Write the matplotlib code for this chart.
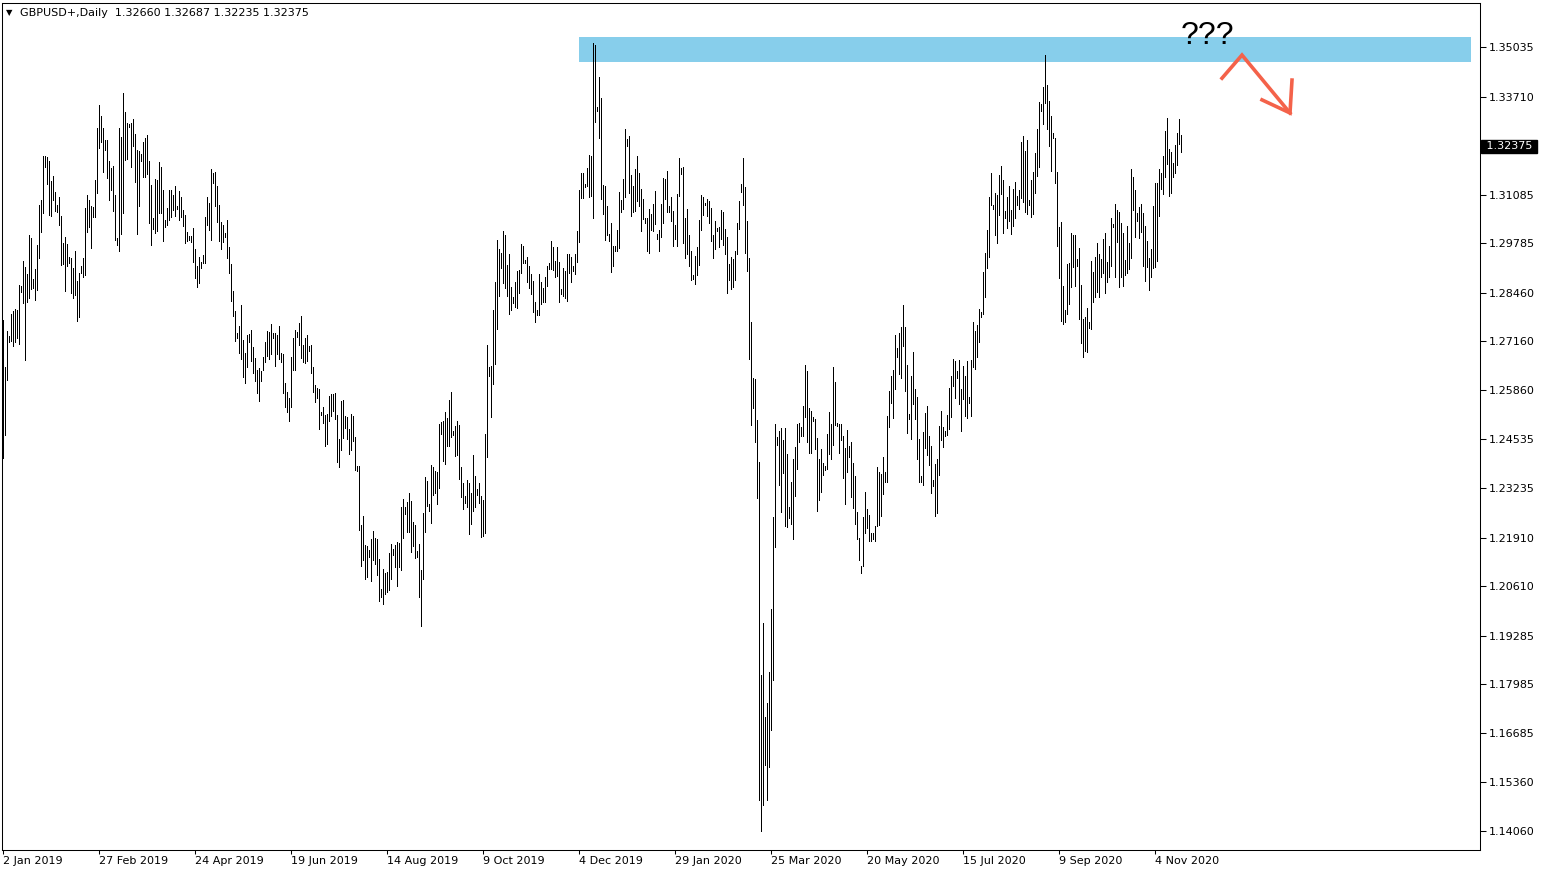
import matplotlib
matplotlib.use("Agg")
import matplotlib.pyplot as plt
import numpy as np

# --- chart data (daily bars incl. sunday bars) ---
symbol = "GBPUSD+,Daily"
last_ohlc = ["1.32660", "1.32687", "1.32235", "1.32375"]
last_price = 1.32375

high = [
    1.2773, 1.2648, 1.2743, 1.2730, 1.2789, 1.2797, 1.2802, 1.2800, 1.2867, 1.2864,
    1.2931, 1.2915, 1.2896, 1.3000, 1.2992, 1.2883, 1.2910, 1.2974, 1.3081, 1.3094,
    1.3212, 1.3212, 1.3209, 1.3198, 1.3145, 1.3158, 1.3115, 1.3081, 1.3102, 1.3051,
    1.2979, 1.2995, 1.2976, 1.2942, 1.2939, 1.2912, 1.2958, 1.2877, 1.2899, 1.2917,
    1.2939, 1.3073, 1.3107, 1.3094, 1.3078, 1.3075, 1.3148, 1.3287, 1.3348, 1.3319,
    1.3287, 1.3255, 1.3255, 1.3198, 1.3180, 1.3185, 1.3107, 1.2992, 1.3287, 1.3263,
    1.3380, 1.3329, 1.3300, 1.3297, 1.3300, 1.3311, 1.3271, 1.3228, 1.3225, 1.3217,
    1.3249, 1.3260, 1.3268, 1.3198, 1.3134, 1.3046, 1.3150, 1.3148, 1.3196, 1.3182,
    1.3121, 1.3041, 1.3073, 1.3121, 1.3121, 1.3107, 1.3131, 1.3078, 1.3118, 1.3102,
    1.3067, 1.3054, 1.3008, 1.2998, 1.2998, 1.3019, 1.2963, 1.2917, 1.2942, 1.2928,
    1.2947, 1.3049, 1.3102, 1.3086, 1.3177, 1.3166, 1.3169, 1.3131, 1.3081, 1.3035,
    1.3027, 1.3006, 1.3041, 1.2968, 1.2923, 1.2851, 1.2797, 1.2738, 1.2757, 1.2813,
    1.2720, 1.2685, 1.2733, 1.2736, 1.2746, 1.2701, 1.2671, 1.2639, 1.2645, 1.2637,
    1.2674, 1.2714, 1.2744, 1.2741, 1.2762, 1.2738, 1.2738, 1.2733, 1.2757, 1.2685,
    1.2682, 1.2605, 1.2580, 1.2564, 1.2674, 1.2725, 1.2746, 1.2741, 1.2765, 1.2784,
    1.2706, 1.2725, 1.2733, 1.2703, 1.2706, 1.2647, 1.2599, 1.2591, 1.2588, 1.2527,
    1.2540, 1.2519, 1.2521, 1.2570, 1.2575, 1.2575, 1.2578, 1.2519, 1.2455, 1.2556,
    1.2559, 1.2516, 1.2513, 1.2481, 1.2521, 1.2516, 1.2460, 1.2382, 1.2382, 1.2225,
    1.2249, 1.2171, 1.2169, 1.2158, 1.2187, 1.2209, 1.2190, 1.2187, 1.2134, 1.2054,
    1.2107, 1.2096, 1.2099, 1.2150, 1.2174, 1.2160, 1.2171, 1.2179, 1.2177, 1.2273,
    1.2294, 1.2273, 1.2286, 1.2310, 1.2289, 1.2233, 1.2225, 1.2155, 1.2174, 1.2104,
    1.2257, 1.2353, 1.2342, 1.2281, 1.2385, 1.2380, 1.2369, 1.2366, 1.2495, 1.2500,
    1.2503, 1.2527, 1.2511, 1.2559, 1.2580, 1.2476, 1.2489, 1.2503, 1.2492, 1.2380,
    1.2337, 1.2302, 1.2345, 1.2337, 1.2310, 1.2412, 1.2356, 1.2321, 1.2337, 1.2302,
    1.2292, 1.2468, 1.2706, 1.2647, 1.2650, 1.2800, 1.2875, 1.2987, 1.2963, 1.2952,
    1.3011, 1.3000, 1.2920, 1.2950, 1.2861, 1.2835, 1.2875, 1.2904, 1.2907, 1.2976,
    1.2971, 1.2934, 1.2942, 1.2917, 1.2896, 1.2877, 1.2821, 1.2800, 1.2896, 1.2875,
    1.2859, 1.2888, 1.2917, 1.2926, 1.2984, 1.2968, 1.2931, 1.2968, 1.2928, 1.2856,
    1.2912, 1.2904, 1.2950, 1.2950, 1.2942, 1.2917, 1.2950, 1.3011, 1.3121, 1.3166,
    1.3166, 1.3137, 1.3180, 1.3214, 1.3212, 1.3514, 1.3509, 1.3343, 1.3423, 1.3367,
    1.3134, 1.3131, 1.3078, 1.3003, 1.3032, 1.2971, 1.2971, 1.3014, 1.3115, 1.3094,
    1.3150, 1.3284, 1.3257, 1.3265, 1.3161, 1.3131, 1.3177, 1.3212, 1.3166, 1.3123,
    1.3097, 1.3046, 1.3046, 1.3070, 1.3057, 1.3083, 1.3118, 1.3003, 1.3014, 1.3083,
    1.3153, 1.3150, 1.3172, 1.3078, 1.3102, 1.3065, 1.3027, 1.3110, 1.3206, 1.3180,
    1.3182, 1.3046, 1.3070, 1.3000, 1.2958, 1.2893, 1.2944, 1.2968, 1.3041, 1.3107,
    1.3102, 1.3086, 1.3097, 1.3091, 1.3073, 1.3000, 1.3038, 1.3019, 1.3022, 1.3067,
    1.3062, 1.3016, 1.2995, 1.2923, 1.2942, 1.2936, 1.2958, 1.3032, 1.3091, 1.3137,
    1.3206, 1.3129, 1.3038, 1.2939, 1.2768, 1.2618, 1.2615, 1.2506, 1.2393, 1.1823,
    1.1963, 1.1711, 1.1748, 1.1831, 1.2000, 1.2246, 1.2495, 1.2460, 1.2476, 1.2484,
    1.2452, 1.2484, 1.2415, 1.2273, 1.2340, 1.2401, 1.2433, 1.2495, 1.2497, 1.2487,
    1.2543, 1.2653, 1.2637, 1.2538, 1.2530, 1.2513, 1.2508, 1.2457, 1.2401, 1.2428,
    1.2390, 1.2382, 1.2468, 1.2527, 1.2495, 1.2647, 1.2607, 1.2497, 1.2495, 1.2495,
    1.2463, 1.2431, 1.2479, 1.2436, 1.2447, 1.2390, 1.2356, 1.2259, 1.2190, 1.2115,
    1.2246, 1.2313, 1.2267, 1.2251, 1.2203, 1.2203, 1.2222, 1.2380, 1.2366, 1.2361,
    1.2407, 1.2366, 1.2516, 1.2583, 1.2623, 1.2639, 1.2733, 1.2698, 1.2738, 1.2754,
    1.2813, 1.2754, 1.2653, 1.2521, 1.2623, 1.2687, 1.2588, 1.2567, 1.2455, 1.2356,
    1.2473, 1.2524, 1.2543, 1.2463, 1.2436, 1.2345, 1.2388, 1.2401, 1.2489, 1.2530,
    1.2487, 1.2476, 1.2519, 1.2591, 1.2623, 1.2669, 1.2663, 1.2637, 1.2666, 1.2588,
    1.2650, 1.2623, 1.2663, 1.2567, 1.2666, 1.2768, 1.2744, 1.2760, 1.2802, 1.2794,
    1.2901, 1.2952, 1.3014, 1.3102, 1.3166, 1.3081, 1.3113, 1.3107, 1.3161, 1.3185,
    1.3148, 1.3065, 1.3102, 1.3131, 1.3067, 1.3123, 1.3142, 1.3105, 1.3121, 1.3249,
    1.3265, 1.3225, 1.3255, 1.3094, 1.3148, 1.3169, 1.3220, 1.3284, 1.3356, 1.3351,
    1.3396, 1.3482, 1.3402, 1.3359, 1.3319, 1.3273, 1.3260, 1.3169, 1.3022, 1.3035,
    1.2864, 1.2800, 1.2923, 1.2926, 1.3006, 1.3000, 1.3000, 1.2936, 1.2966, 1.2867,
    1.2776, 1.2781, 1.2805, 1.2768, 1.2931, 1.2901, 1.2942, 1.2979, 1.2950, 1.2936,
    1.2990, 1.3006, 1.2928, 1.2971, 1.3046, 1.3030, 1.3083, 1.3067, 1.3062, 1.3032,
    1.3006, 1.2934, 1.3025, 1.2979, 1.3177, 1.3156, 1.3121, 1.3059, 1.3075, 1.3083,
    1.3059, 1.3025, 1.2984, 1.2939, 1.2963, 1.3078, 1.3140, 1.3140, 1.3177, 1.3166,
    1.3212, 1.3279, 1.3313, 1.3230, 1.3222, 1.3193, 1.3241, 1.3273, 1.3311, 1.32687,
]

low = [
    1.2404, 1.2465, 1.2613, 1.2715, 1.2717, 1.2703, 1.2715, 1.2725, 1.2709, 1.2848,
    1.2819, 1.2666, 1.2821, 1.2832, 1.2856, 1.2859, 1.2827, 1.2853, 1.2939, 1.3008,
    1.3059, 1.3182, 1.3137, 1.3054, 1.3051, 1.3094, 1.3065, 1.3062, 1.3027, 1.2920,
    1.2923, 1.2851, 1.2917, 1.2926, 1.2845, 1.2832, 1.2840, 1.2770, 1.2781, 1.2899,
    1.2888, 1.2893, 1.3008, 1.3022, 1.2966, 1.3049, 1.3049, 1.3113, 1.3233, 1.3249,
    1.3169, 1.3228, 1.3153, 1.3094, 1.3121, 1.3065, 1.2987, 1.2974, 1.2958, 1.3003,
    1.3059, 1.3201, 1.3204, 1.3289, 1.3182, 1.3238, 1.3142, 1.3003, 1.3078, 1.3198,
    1.3156, 1.3156, 1.3164, 1.3032, 1.2974, 1.3017, 1.3006, 1.3011, 1.3059, 1.3059,
    1.2984, 1.3022, 1.3027, 1.3041, 1.3049, 1.3067, 1.3051, 1.3070, 1.3041, 1.3049,
    1.3025, 1.2979, 1.2984, 1.2987, 1.2982, 1.2928, 1.2885, 1.2861, 1.2872, 1.2912,
    1.2926, 1.2926, 1.3027, 1.3014, 1.2987, 1.3140, 1.3078, 1.3035, 1.2984, 1.2963,
    1.2982, 1.2995, 1.2939, 1.2899, 1.2824, 1.2784, 1.2717, 1.2725, 1.2685, 1.2669,
    1.2621, 1.2605, 1.2647, 1.2715, 1.2663, 1.2631, 1.2610, 1.2578, 1.2556, 1.2610,
    1.2639, 1.2661, 1.2677, 1.2669, 1.2682, 1.2725, 1.2650, 1.2682, 1.2669, 1.2661,
    1.2578, 1.2540, 1.2527, 1.2503, 1.2540, 1.2639, 1.2639, 1.2727, 1.2706, 1.2671,
    1.2661, 1.2658, 1.2663, 1.2690, 1.2631, 1.2580, 1.2554, 1.2564, 1.2481, 1.2519,
    1.2497, 1.2436, 1.2441, 1.2503, 1.2516, 1.2530, 1.2508, 1.2393, 1.2380, 1.2425,
    1.2457, 1.2484, 1.2455, 1.2415, 1.2425, 1.2449, 1.2372, 1.2369, 1.2211, 1.2115,
    1.2131, 1.2080, 1.2086, 1.2139, 1.2075, 1.2131, 1.2120, 1.2091, 1.2021, 1.2032,
    1.2013, 1.2040, 1.2045, 1.2051, 1.2080, 1.2144, 1.2112, 1.2062, 1.2112, 1.2104,
    1.2190, 1.2254, 1.2206, 1.2206, 1.2152, 1.2169, 1.2136, 1.2139, 1.2032, 1.1955,
    1.2080, 1.2206, 1.2275, 1.2262, 1.2230, 1.2305, 1.2310, 1.2281, 1.2324, 1.2468,
    1.2396, 1.2388, 1.2436, 1.2436, 1.2460, 1.2465, 1.2409, 1.2412, 1.2348, 1.2300,
    1.2267, 1.2284, 1.2273, 1.2201, 1.2227, 1.2262, 1.2273, 1.2305, 1.2284, 1.2193,
    1.2195, 1.2203, 1.2406, 1.2623, 1.2513, 1.2602, 1.2655, 1.2749, 1.2837, 1.2912,
    1.2872, 1.2859, 1.2837, 1.2789, 1.2800, 1.2819, 1.2808, 1.2805, 1.2845, 1.2899,
    1.2926, 1.2926, 1.2875, 1.2859, 1.2843, 1.2794, 1.2768, 1.2786, 1.2786, 1.2816,
    1.2821, 1.2821, 1.2864, 1.2909, 1.2909, 1.2907, 1.2888, 1.2891, 1.2821, 1.2843,
    1.2837, 1.2832, 1.2824, 1.2899, 1.2875, 1.2904, 1.2896, 1.2928, 1.2982, 1.3099,
    1.3099, 1.3129, 1.3131, 1.3102, 1.3105, 1.3046, 1.3303, 1.3332, 1.3260, 1.3097,
    1.3057, 1.2987, 1.3000, 1.2984, 1.2901, 1.2917, 1.2958, 1.2958, 1.2966, 1.3062,
    1.3070, 1.3102, 1.3238, 1.3113, 1.3051, 1.3062, 1.3065, 1.3091, 1.3078, 1.3011,
    1.3043, 1.3032, 1.2958, 1.2952, 1.3014, 1.3011, 1.3030, 1.2990, 1.2958, 1.2995,
    1.3032, 1.3097, 1.3062, 1.3062, 1.3038, 1.2971, 1.2990, 1.2971, 1.3105, 1.3164,
    1.2979, 1.2939, 1.2950, 1.2917, 1.2880, 1.2883, 1.2869, 1.2893, 1.2920, 1.3014,
    1.3054, 1.3081, 1.3051, 1.3032, 1.2984, 1.2939, 1.2963, 1.3011, 1.2968, 1.2990,
    1.2974, 1.2950, 1.2845, 1.2880, 1.2856, 1.2861, 1.2880, 1.2950, 1.3016, 1.3115,
    1.3081, 1.2952, 1.2904, 1.2669, 1.2492, 1.2538, 1.2447, 1.2297, 1.1489, 1.1406,
    1.1476, 1.1583, 1.1489, 1.1577, 1.1676, 1.1810, 1.2166, 1.2439, 1.2332, 1.2259,
    1.2364, 1.2222, 1.2219, 1.2243, 1.2227, 1.2187, 1.2302, 1.2374, 1.2447, 1.2463,
    1.2463, 1.2513, 1.2447, 1.2417, 1.2417, 1.2503, 1.2428, 1.2262, 1.2292, 1.2313,
    1.2358, 1.2372, 1.2374, 1.2415, 1.2401, 1.2439, 1.2492, 1.2489, 1.2417, 1.2452,
    1.2350, 1.2281, 1.2366, 1.2406, 1.2300, 1.2270, 1.2227, 1.2187, 1.2131, 1.2096,
    1.2115, 1.2203, 1.2217, 1.2182, 1.2182, 1.2187, 1.2182, 1.2222, 1.2225, 1.2249,
    1.2308, 1.2340, 1.2340, 1.2487, 1.2551, 1.2511, 1.2588, 1.2674, 1.2629, 1.2618,
    1.2703, 1.2583, 1.2471, 1.2508, 1.2455, 1.2548, 1.2508, 1.2401, 1.2340, 1.2340,
    1.2332, 1.2431, 1.2412, 1.2385, 1.2310, 1.2329, 1.2249, 1.2257, 1.2358, 1.2452,
    1.2433, 1.2463, 1.2465, 1.2481, 1.2513, 1.2596, 1.2564, 1.2618, 1.2548, 1.2476,
    1.2562, 1.2516, 1.2511, 1.2551, 1.2516, 1.2647, 1.2642, 1.2674, 1.2714, 1.2781,
    1.2789, 1.2835, 1.2912, 1.2942, 1.3081, 1.3070, 1.3000, 1.2979, 1.3054, 1.3110,
    1.3006, 1.3046, 1.3019, 1.3038, 1.3003, 1.3025, 1.3046, 1.3081, 1.3070, 1.3099,
    1.3089, 1.3062, 1.3057, 1.3081, 1.3049, 1.3057, 1.3113, 1.3158, 1.3182, 1.3332,
    1.3297, 1.3354, 1.3284, 1.3238, 1.3172, 1.3260, 1.3140, 1.2971, 1.2885, 1.2770,
    1.2762, 1.2768, 1.2789, 1.2816, 1.2861, 1.2915, 1.2864, 1.2917, 1.2776, 1.2712,
    1.2674, 1.2690, 1.2687, 1.2752, 1.2749, 1.2821, 1.2835, 1.2848, 1.2835, 1.2888,
    1.2899, 1.2845, 1.2875, 1.2888, 1.2917, 1.3022, 1.2888, 1.2982, 1.2861, 1.2888,
    1.2864, 1.2893, 1.2899, 1.2909, 1.2939, 1.3067, 1.2995, 1.3038, 1.2992, 1.3008,
    1.2917, 1.2877, 1.2915, 1.2853, 1.2888, 1.2912, 1.2915, 1.2931, 1.3051, 1.3123,
    1.3110, 1.3156, 1.3190, 1.3105, 1.3113, 1.3156, 1.3166, 1.3188, 1.3244, 1.32235,
]

date_labels = ["2 Jan 2019", "27 Feb 2019", "24 Apr 2019", "19 Jun 2019",
               "14 Aug 2019", "9 Oct 2019", "4 Dec 2019", "29 Jan 2020",
               "25 Mar 2020", "20 May 2020", "15 Jul 2020", "9 Sep 2020",
               "4 Nov 2020"]
bars_per_label = 48

price_ticks = [1.35035, 1.33710, 1.31085, 1.29785, 1.28460, 1.27160,
               1.25860, 1.24535, 1.23235, 1.21910, 1.20610, 1.19285,
               1.17985, 1.16685, 1.15360, 1.14060]

# resistance zone and the "what next" sketch
zone_bars = (288, 734)
zone_prices = (1.3463, 1.3530)
arrow_bars = [609.5, 619.5, 643.5]
arrow_prices = [1.3420, 1.3482, 1.3327]
head_bars = [629.5, 643.5, 644.5]
head_prices = [1.3362, 1.3327, 1.3415]

assert len(high) == len(low)
bars = np.arange(len(high))

W, H = 1544, 874
fig = plt.figure(figsize=(W / 100, H / 100), dpi=100)
ax = fig.add_axes([2 / W, (H - 850) / H, 1478 / W, 847 / H])

ax.add_patch(plt.Rectangle((zone_bars[0], zone_prices[0]),
                           zone_bars[1] - zone_bars[0],
                           zone_prices[1] - zone_prices[0],
                           color="#87CEEB", lw=0, zorder=1))

# 1px wide bars like MT4 at this zoom level
ax.vlines(bars, low, high, color="black", linewidth=0.6,
          antialiased=False, zorder=2)

red = "#F4624A"
ax.plot(arrow_bars, arrow_prices, color=red, lw=2.6, zorder=3,
        solid_joinstyle="miter")
ax.plot(head_bars, head_prices, color=red, lw=2.6, zorder=3,
        solid_joinstyle="miter")
ax.text(602, 1.3533, "???", fontsize=23, ha="center", va="center",
        family="Liberation Sans", zorder=4)

ax.set_xlim(-0.5, 738.5)
ax.set_ylim(1.13551, 1.36212)

ax.yaxis.tick_right()
ax.set_yticks(price_ticks)
ax.set_yticklabels([f"{p:.5f}" for p in price_ticks])
ax.tick_params(axis="y", direction="out", length=4, width=0.75,
               labelsize=8, pad=2)

xt = np.arange(len(date_labels)) * bars_per_label
ax.set_xticks(xt)
ax.set_xticklabels(date_labels, ha="left")
ax.tick_params(axis="x", direction="out", length=3, width=0.75,
               labelsize=8, pad=1.5)

for s in ax.spines.values():
    s.set_linewidth(0.75)

# current price tag on the price scale
ax.annotate(f" {last_price:.5f} ", xy=(1.0, last_price),
            xycoords=("axes fraction", "data"), xytext=(2, 0),
            textcoords="offset points", va="center", ha="left",
            fontsize=8, color="white",
            bbox=dict(boxstyle="square,pad=0.15", fc="black", ec="black"))

fig.text(6 / W, 1 - 13 / H, "\u25bc", fontsize=6, va="center", ha="left")
fig.text(20 / W, 1 - 13 / H, symbol + "  " + " ".join(last_ohlc),
         fontsize=8, va="center", ha="left")

fig.savefig("out.png", dpi=100, facecolor="white")
